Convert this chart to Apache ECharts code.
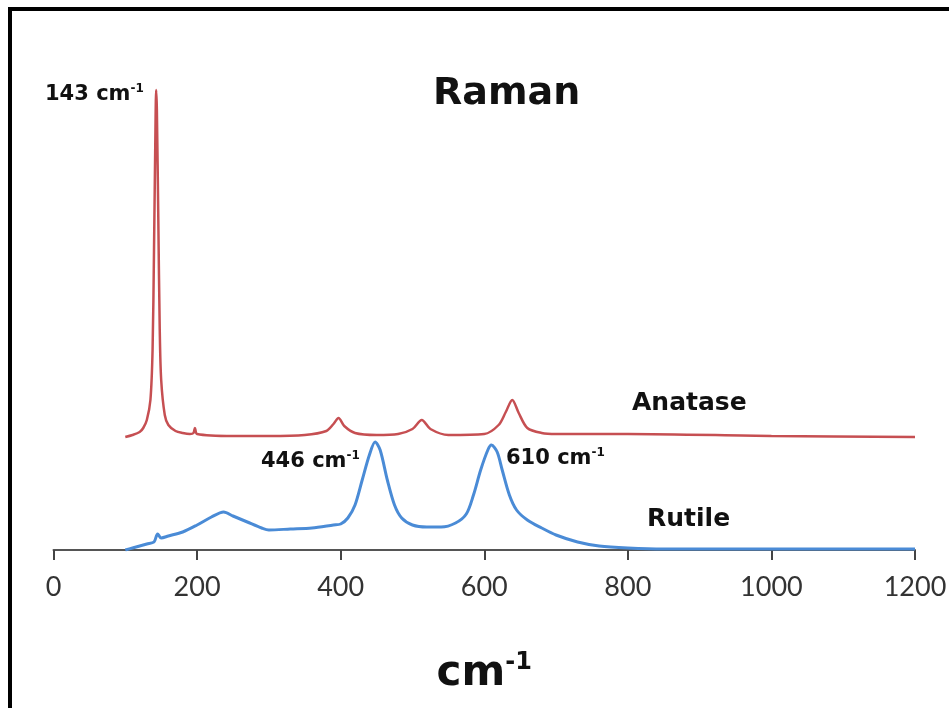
<!DOCTYPE html>
<html>
<head>
<meta charset="utf-8">
<script src="https://cdn.jsdelivr.net/npm/echarts@6/dist/echarts.min.js"></script>
<style>html,body{margin:0;padding:0;background:#fff;overflow:hidden;}#c{width:949px;height:708px;}</style>
</head>
<body>
<div id="c"></div>
<script>
// Wavenumber (cm-1) and relative intensity
const anataseX = [100,110,120,125,130,135,138,140,142,143,144,146,148,150,155,160,170,180,190,195,197,200,250,300,350,380,390,397,405,420,450,480,500,513,525,550,600,620,630,639,648,660,680,700,800,1000,1200];
const anataseY = [113,115,118,122,130,150,200,300,420,460,440,330,220,170,135,125,119,117,116,117,122,116,114,114,115,119,126,132,124,117,115,116,121,130,121,115,116,125,138,150,137,122,117,116,116,114,113];
const rutileX = [100,110,120,130,140,145,150,160,180,200,220,237,250,270,290,300,330,360,390,400,410,420,430,440,448,455,465,475,485,500,520,540,560,575,585,595,605,610,618,625,635,645,660,680,700,730,760,800,850,900,1000,1200];
const rutileY = [0,2,4,6,8,16,12,14,18,25,33,38,34,28,22,20,21,22,25,26,32,45,70,95,108,100,70,45,32,25,23,23,27,36,55,80,100,105,98,80,55,40,30,22,15,8,4,2,1,1,1,1];
const xTicks = [0,200,400,600,800,1000,1200];
const seriesNames = ['Anatase','Rutile'];
const peakLabels = ['143','446','610'];

const pairs = (xs, ys) => xs.map((x, i) => [x, ys[i]]);
const chart = echarts.init(document.getElementById('c'));
const LBL = 'Lato';
const BOLD = 'DejaVu Sans';
const peakRich = {
  n: {fontFamily: BOLD, fontSize: 21, fontWeight: 'bold', fill: '#111', lineHeight: 24},
  s: {fontFamily: BOLD, fontSize: 12, fontWeight: 'bold', fill: '#111', verticalAlign: 'top', lineHeight: 24}
};
const peakText = (t, left, top) => ({type: 'text', left, top, style: {text: '{n|' + t + ' cm}{s|-1}', rich: peakRich}});
chart.setOption({
  animation: false,
  backgroundColor: '#fff',
  title: {
    text: 'Raman', left: 428, top: 70,
    textStyle: {fontFamily: BOLD, fontSize: 38, fontWeight: 'bold', color: '#111'}
  },
  grid: {left: 53.5, right: 34, top: 50, bottom: 158, outerBoundsMode: 'none', containLabel: false},
  xAxis: {
    type: 'value', min: xTicks[0], max: xTicks[xTicks.length-1], interval: 200,
    splitLine: {show: false},
    axisLine: {lineStyle: {color: '#555', width: 2}},
    axisTick: {length: 10, lineStyle: {color: '#444', width: 2}},
    axisLabel: {fontFamily: LBL, fontSize: 27, color: '#333', margin: 24, formatter: v => String(v)},
    name: '{a|cm}{b|-1}', nameLocation: 'middle', nameGap: 101,
    nameTextStyle: {
      rich: {
        a: {fontFamily: BOLD, fontSize: 42, fontWeight: 'bold', color: '#111', lineHeight: 46},
        b: {fontFamily: BOLD, fontSize: 24, fontWeight: 'bold', color: '#111', verticalAlign: 'top', lineHeight: 46}
      }
    }
  },
  yAxis: {type: 'value', min: 0, max: 500, show: false},
  series: [
    {name: seriesNames[0], type: 'line', data: pairs(anataseX, anataseY), showSymbol: false,
     smooth: 0.3, lineStyle: {color: '#c64f52', width: 2.5}, itemStyle: {color: '#c64f52'}},
    {name: seriesNames[1], type: 'line', data: pairs(rutileX, rutileY), showSymbol: false,
     smooth: 0.3, lineStyle: {color: '#4a8bd6', width: 3}, itemStyle: {color: '#4a8bd6'}}
  ],
  graphic: [
    {type: 'line', shape: {x1: 8, y1: 9, x2: 949, y2: 9}, style: {stroke: '#000', lineWidth: 4}, silent: true},
    {type: 'line', shape: {x1: 10, y1: 7, x2: 10, y2: 708}, style: {stroke: '#000', lineWidth: 4}, silent: true},
    peakText(peakLabels[0], 45, 83),
    peakText(peakLabels[1], 261, 450),
    peakText(peakLabels[2], 506, 447),
    {type: 'text', left: 632, top: 391, style: {text: seriesNames[0], fontFamily: BOLD, fontSize: 25, fontWeight: 'bold', fill: '#111'}},
    {type: 'text', left: 647, top: 507, style: {text: seriesNames[1], fontFamily: BOLD, fontSize: 25, fontWeight: 'bold', fill: '#111'}}
  ]
});
</script>
</body>
</html>
